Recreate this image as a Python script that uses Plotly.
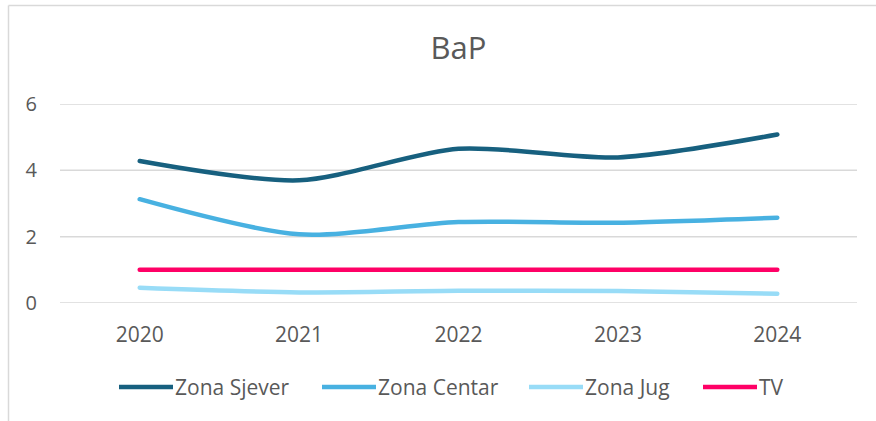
import plotly.graph_objects as go

years = ["2020", "2021", "2022", "2023", "2024"]
zona_sjever = [4.28, 3.70, 4.65, 4.39, 5.08]
zona_centar = [3.13, 2.07, 2.44, 2.42, 2.57]
zona_jug = [0.46, 0.32, 0.37, 0.36, 0.28]
tv = [1.0, 1.0, 1.0, 1.0, 1.0]

series_names = ["Zona Sjever", "Zona Centar", "Zona Jug", "TV"]
series_values = [zona_sjever, zona_centar, zona_jug, tv]
colors = ["#17607f", "#48b1e1", "#98dcf7", "#ff0066"]
y_ticks = [0, 2, 4, 6]

W, H = 876, 421
L, R, T, B = 60, 19, 104, 118
FONT = "Open Sans"
GREY = "#595959"

fig = go.Figure()
for name, vals, col in zip(series_names, series_values, colors):
    fig.add_trace(go.Scatter(
        x=years, y=vals, name=name, mode="lines",
        line=dict(color=col, width=4.5, shape="spline", smoothing=0.8),
        showlegend=False,
    ))

pw = W - L - R
ph = H - T - B
def px_x(p):
    return (p - L) / pw
def px_y(p):
    return (H - B - p) / ph

shapes = []
annotations = []
# horizontal gridlines at each y tick
for t in y_ticks:
    shapes.append(dict(type="line", xref="paper", yref="y", x0=0, x1=1, y0=t, y1=t,
                       layer="below", line=dict(color="#d9d9d9", width=1.5)))
# chart border (left and top)
shapes.append(dict(type="line", xref="paper", yref="paper",
                   x0=px_x(8.5), x1=px_x(8.5), y0=px_y(5.5), y1=px_y(430),
                   line=dict(color="#d9d9d9", width=1.5)))
shapes.append(dict(type="line", xref="paper", yref="paper",
                   x0=px_x(8.5), x1=px_x(880), y0=px_y(5.5), y1=px_y(5.5),
                   line=dict(color="#d9d9d9", width=1.5)))

# manual legend
legend_x = [119, 322, 529, 703]
leg_y = 387
for name, col, lx in zip(series_names, colors, legend_x):
    shapes.append(dict(type="line", xref="paper", yref="paper",
                       x0=px_x(lx), x1=px_x(lx + 54), y0=px_y(leg_y), y1=px_y(leg_y),
                       line=dict(color=col, width=4.5)))
    annotations.append(dict(text=name, xref="paper", yref="paper",
                            x=px_x(lx + 54), y=px_y(leg_y), xanchor="left", yanchor="middle",
                            showarrow=False, font=dict(family=FONT, size=21, color=GREY)))

fig.update_layout(
    width=W, height=H,
    margin=dict(l=L, r=R, t=T, b=B, pad=0),
    paper_bgcolor="white", plot_bgcolor="white",
    title=dict(text="BaP", x=0.5, xref="paper", xanchor="center",
               y=1 - 48 / H, yref="container", yanchor="middle",
               font=dict(family=FONT, size=31, color=GREY)),
    font=dict(family=FONT, color=GREY),
    xaxis=dict(type="category", range=[-0.5, 4.5], showgrid=False, zeroline=False,
               showline=False, ticks="", tickfont=dict(size=21, color=GREY),
               ticklabelstandoff=17, fixedrange=True),
    yaxis=dict(range=[0, 6], tickvals=y_ticks, showgrid=False, zeroline=False,
               showline=False, ticks="",
               tickfont=dict(size=20, color=GREY), ticklabelstandoff=22, fixedrange=True),
    shapes=shapes, annotations=annotations,
    showlegend=False,
)

fig.write_html("out.html",
               config={"displayModeBar": False, "staticPlot": True},
               post_script="document.body.style.margin='0';document.body.style.padding='0';"
                           "document.documentElement.style.overflow='hidden';"
                           "document.querySelectorAll('path.js-line').forEach(function(p){p.style.strokeLinecap='round';});")
